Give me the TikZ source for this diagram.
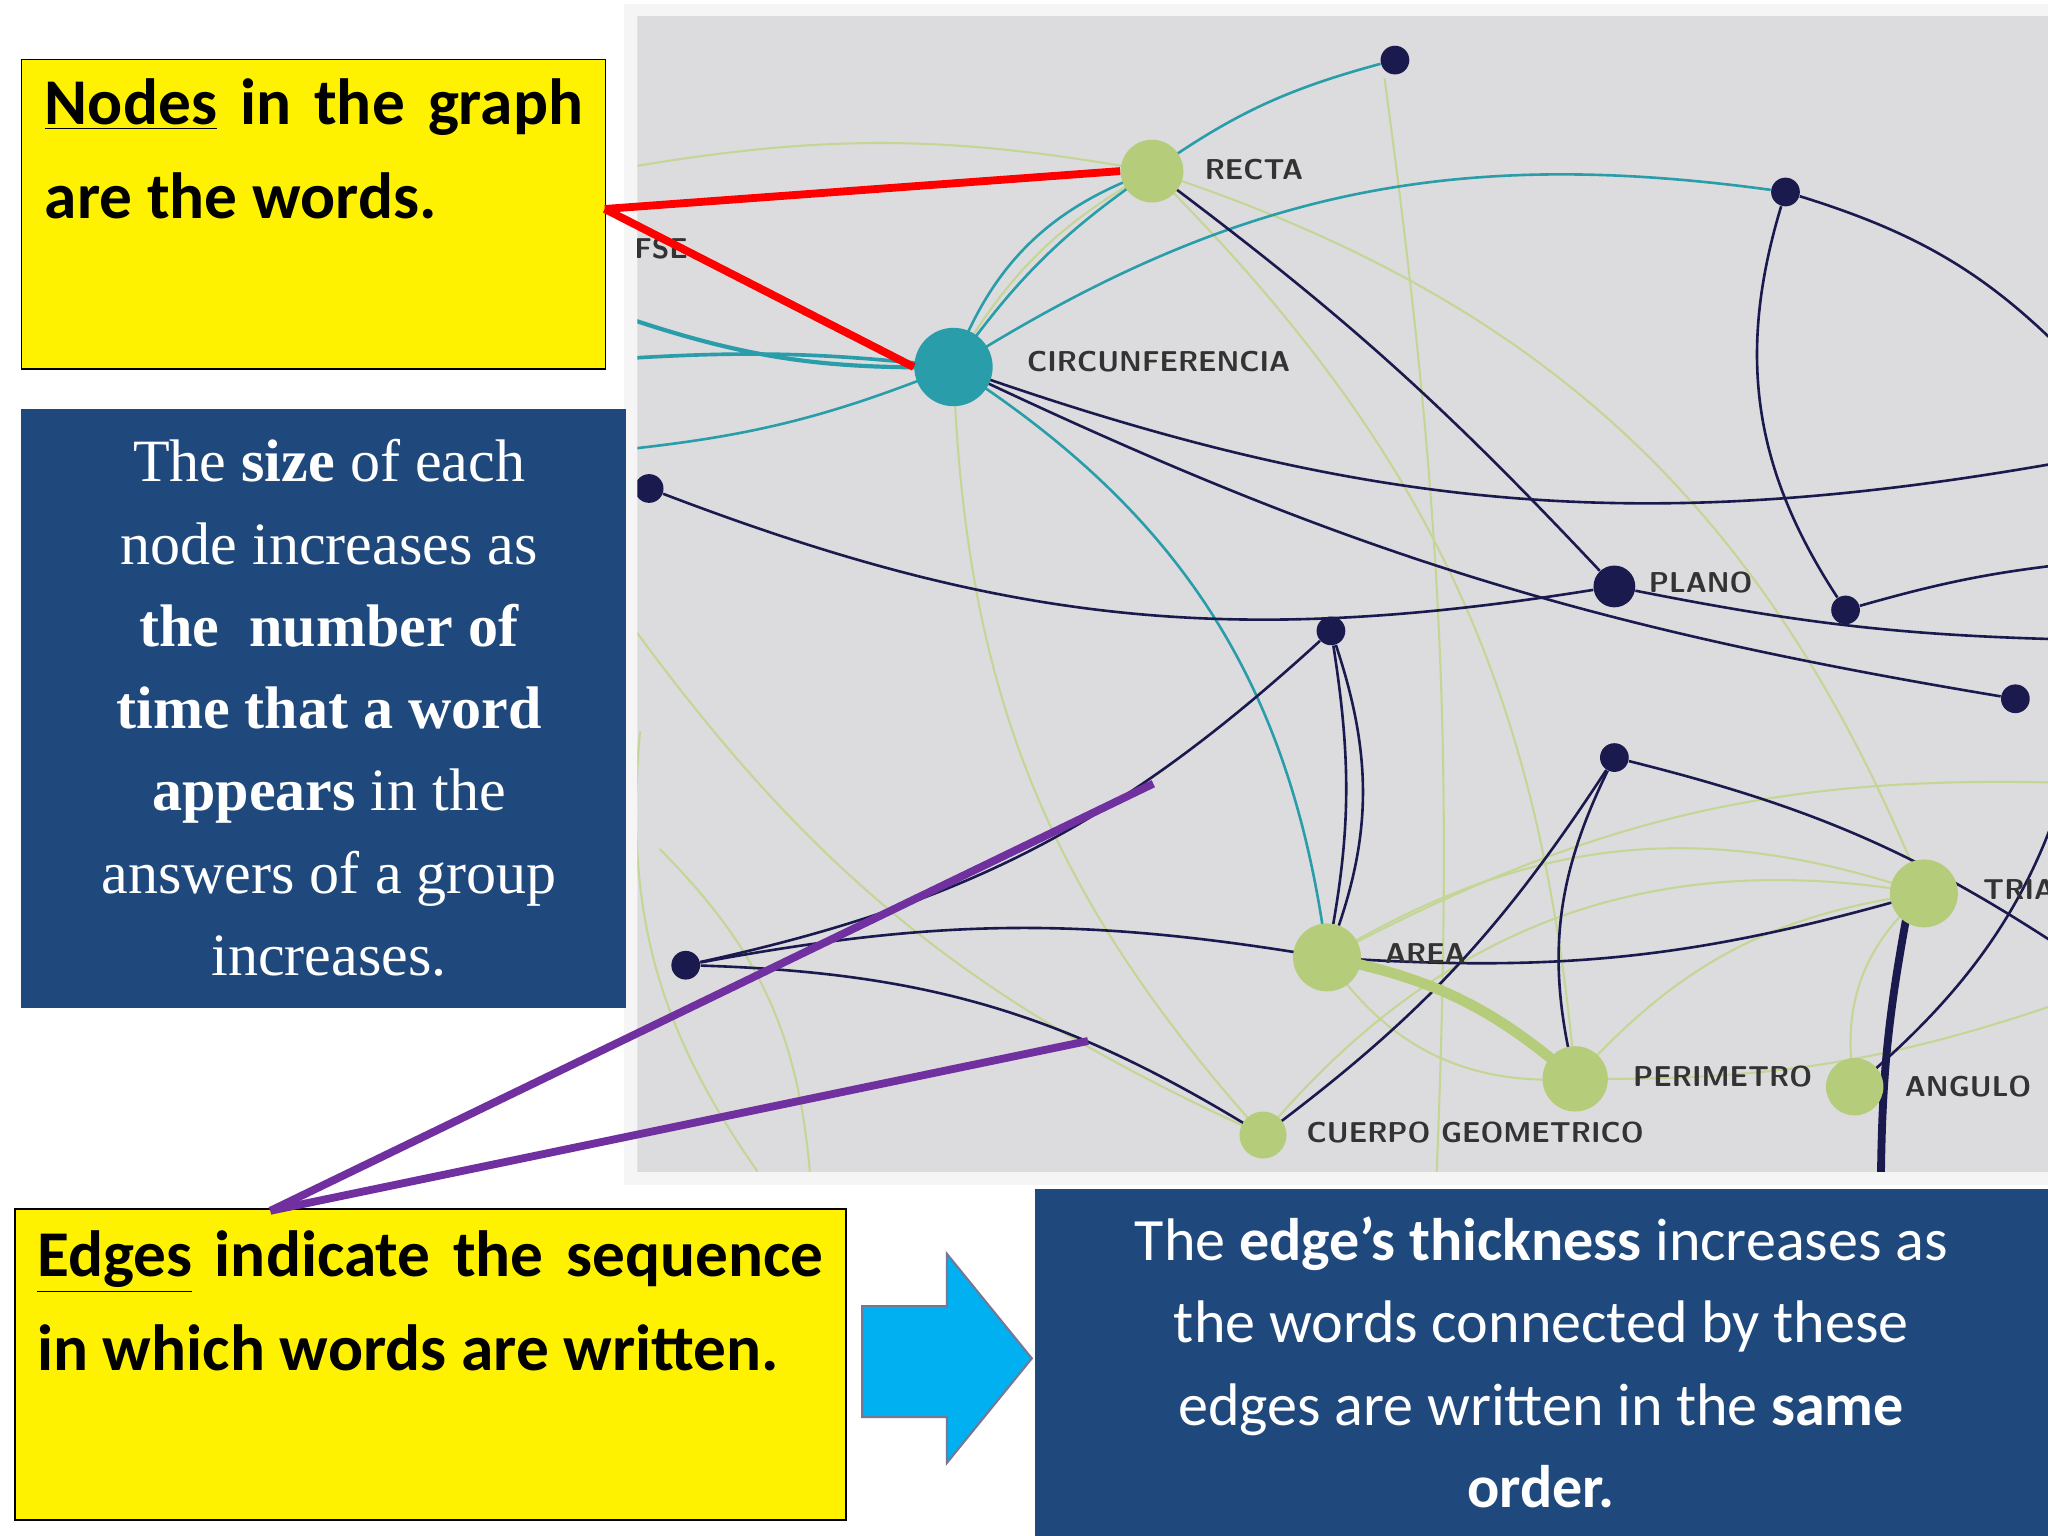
\documentclass[tikz,border=0pt]{standalone}
\usepackage{fontspec}
\setmainfont{Liberation Serif}
\newfontfamily\calfont{Carlito}
\begin{document}
\begin{tikzpicture}[x=0.5pt,y=-0.5pt,
  dot/.style={circle,fill=navy,inner sep=0pt,minimum size=11pt},
  gn/.style={circle,fill=lgreen,inner sep=0pt},
  lab/.style={font=\sffamily\bfseries\fontsize{11}{12}\selectfont,text=black!80,anchor=west,inner sep=0pt},
  nv/.style={draw=navy,line width=1pt},
  tl/.style={draw=teal2,line width=1pt},
  gr/.style={draw=lgreen!80,line width=0.8pt},
  ybox/.style={draw=black,fill=yellow,line width=0.6pt},
  bbox/.style={fill=boxblue}]
\definecolor{navy}{HTML}{1B1A4E}
\definecolor{lgreen}{HTML}{B5CC7A}
\definecolor{teal2}{HTML}{2A9DAA}
\definecolor{boxblue}{HTML}{1F497D}
\definecolor{graybg}{HTML}{DCDCDE}
\definecolor{arrowc}{HTML}{00B0F0}
\definecolor{purp}{HTML}{7030A0}
\useasboundingbox (0,0) rectangle (1568,1176);
\fill[white] (0,0) rectangle (1568,1176);
\fill[gray!8] (478,3) rectangle (1568,907);
\begin{scope}
\clip (488,12) rectangle (1568,897);
\fill[graybg] (488,12) rectangle (1568,897);
% nodes
\node[dot] (d1) at (1068,46) {};
\node[dot] (d2) at (1367,147) {};
\node[dot] (d3) at (497,374) {};
\node[dot] (d4) at (1019,483) {};
\node[dot,minimum size=16pt] (plano) at (1236,449) {};
\node[dot] (d5) at (1413,467) {};
\node[dot] (d6) at (1543,535) {};
\node[dot] (d7) at (1236,580) {};
\node[dot] (d8) at (525,739) {};
\coordinate (L1) at (470,240); \coordinate (L2) at (470,275); \coordinate (L3) at (470,345);
\coordinate (R1) at (1600,290); \coordinate (R2) at (1600,350); \coordinate (R3) at (1600,430);
\coordinate (R4) at (1600,490); \coordinate (R5) at (1600,740); \coordinate (R6) at (1600,520);
\coordinate (B1) at (1440,910); \coordinate (T1) at (1460,700);
\coordinate (G1) at (470,460); \coordinate (G2) at (470,130); \coordinate (G3) at (1600,600);
\coordinate (G4) at (1600,760); \coordinate (G5) at (1060,60);
% light green edges
\draw[gr] (G2) to[bend left=10] (882,131);
\draw[gr] (G1) to[bend right=15] (967,869);
\draw[gr] (882,131) to[bend left=20] (1206,826);
\draw[gr] (882,131) to[bend right=15] (730,281);
\draw[gr] (882,131) to[bend left=25] (1473,684);
\draw[gr] (G5) to[bend left=5] (1100,897);
\draw[gr] (730,281) to[bend right=20] (967,869);
\draw[gr] (1016,733) to[bend left=25] (1473,684);
\draw[gr] (967,869) to[bend left=30] (1473,684);
\draw[gr] (1206,826) to[bend left=20] (1473,684);
\draw[gr] (1016,733) to[bend left=15] (G3);
\draw[gr] (1206,826) to[bend right=10] (G4);
\draw[gr] (1420,832) to[bend left=30] (1473,684);
\draw[gr] (505,650) to[bend left=20] (620,897);
\draw[gr] (1016,733) to[bend right=30] (1206,826);
\draw[gr] (490,560) to[bend right=20] (580,897);
% teal edges
\draw[tl] (d1) to[bend right=10] (882,131);
\draw[tl] (882,131) to[bend right=10] (730,281);
\draw[tl] (882,131) to[bend right=25] (730,281);
\draw[tl] (730,281) to[bend left=20] (d2);
\draw[tl,line width=1.6pt] (730,281) to[bend left=10] (L1);
\draw[tl,line width=1.4pt] (730,281) to[bend right=5] (L2);
\draw[tl] (730,281) to[bend left=8] (L3);
\draw[tl] (730,281) to[bend left=25] (1016,733);
% navy edges
\draw[nv] (882,131) to[bend left=5] (plano);
\draw[nv] (730,281) to[bend right=15] (R2);
\draw[nv] (730,281) to[bend right=8] (d6);
\draw[nv] (d3) to[bend right=15] (plano);
\draw[nv] (d2) to[bend right=25] (d5);
\draw[nv] (d2) to[bend left=15] (R1);
\draw[nv] (d4) to[bend left=10] (1016,733);
\draw[nv] (d4) to[bend left=20] (1016,733);
\draw[nv] (d4) to[bend left=15] (d8);
\draw[nv] (d8) to[bend left=10] (1016,733);
\draw[nv] (d8) to[bend left=15] (967,869);
\draw[nv] (967,869) to[bend right=10] (d7);
\draw[nv] (d7) to[bend right=20] (1206,826);
\draw[nv] (d7) to[bend left=10] (R5);
\draw[nv] (1016,733) to[bend right=10] (1473,684);
\draw[nv,line width=3pt] (T1) to[bend right=5] (B1);
\draw[nv] (d5) to[bend left=5] (R3);
\draw[nv] (plano) to[bend right=5] (R4);
\draw[nv] (1420,832) to[bend right=20] (R6);
\draw[draw=lgreen,line width=4pt] (1016,733) to[bend left=15] (1206,826);
\node[gn,minimum size=24pt] (recta) at (882,131) {};
\node[circle,fill=teal2,inner sep=0pt,minimum size=30pt] (circ) at (730,281) {};
\node[gn,minimum size=26pt] (area) at (1016,733) {};
\node[gn,minimum size=25pt] (per) at (1206,826) {};
\node[gn,minimum size=18pt] (cuerpo) at (967,869) {};
\node[gn,minimum size=26pt] (tri) at (1473,684) {};
\node[gn,minimum size=22pt] (ang) at (1420,832) {};
\node[lab] at (922,130) {RECTA};
\node[lab] at (786,277) {CIRCUNFERENCIA};
\node[lab] at (1262,446) {PLANO};
\node[lab] at (1060,730) {AREA};
\node[lab] at (1250,824) {PERIMETRO};
\node[lab] at (1458,832) {ANGULO};
\node[lab] at (1518,681) {TRIANGULO};
\node[lab] at (1000,867) {CUERPO GEOMETRICO};
\node[lab] at (478,190) {IFSE};
\end{scope}
% boxes
\node[ybox,minimum width=447pt*0.5,minimum height=237pt*0.5,anchor=north west,inner sep=0pt] (yb1) at (16,45) {};
\node[anchor=north west,text width=412*0.5pt,align=justify,inner sep=0pt,font=\calfont\bfseries\fontsize{25}{36}\selectfont] (t1) at (34,60)
 {\underline{Nodes} in the graph are the words.};
\node[bbox,minimum width=463pt*0.5,minimum height=458pt*0.5,anchor=north west,inner sep=0pt] (bb1) at (16,313) {};
\node[align=center,text=white,font=\fontsize{23}{31.5}\selectfont,inner sep=0pt] (t2) at (252,542)
 {The \textbf{size} of each\\node increases as\\\textbf{the\ \ number of}\\\textbf{time that a word}\\\textbf{appears} in the\\answers of a group\\increases.};
\node[ybox,minimum width=636pt*0.5,minimum height=238pt*0.5,anchor=north west,inner sep=0pt] (yb2) at (11,925) {};
\node[anchor=north west,text width=602*0.5pt,align=justify,inner sep=0pt,font=\calfont\bfseries\fontsize{25}{36}\selectfont] (t3) at (28,942)
 {\underline{Edges} indicate the sequence in which words are written.};
\draw[draw=navy!60,fill=arrowc,line width=0.8pt] (660,1000) -- (725,1000) -- (725,960) -- (790,1040) -- (725,1120) -- (725,1085) -- (660,1085) -- cycle;
\node[bbox,minimum width=776pt*0.5,minimum height=266pt*0.5,anchor=north west,inner sep=0pt] (bb2) at (792,910) {};
\node[align=center,text=white,font=\calfont\fontsize{23}{31.5}\selectfont,inner sep=0pt] (t4) at (1180,1043)
 {The \textbf{edge’s thickness} increases as\\the words connected by these\\edges are written in the \textbf{same}\\\textbf{order.}};
% pointers
\coordinate (p1) at (463,160); \coordinate (p2) at (207,927);
\draw[red,line width=3pt] (p1) -- (recta.west);
\draw[red,line width=3pt] (p1) -- (circ.west);
\draw[purp,line width=3pt] (p2) -- (883,600);
\draw[purp,line width=3pt] (p2) -- (833,797);
\end{tikzpicture}
\end{document}
